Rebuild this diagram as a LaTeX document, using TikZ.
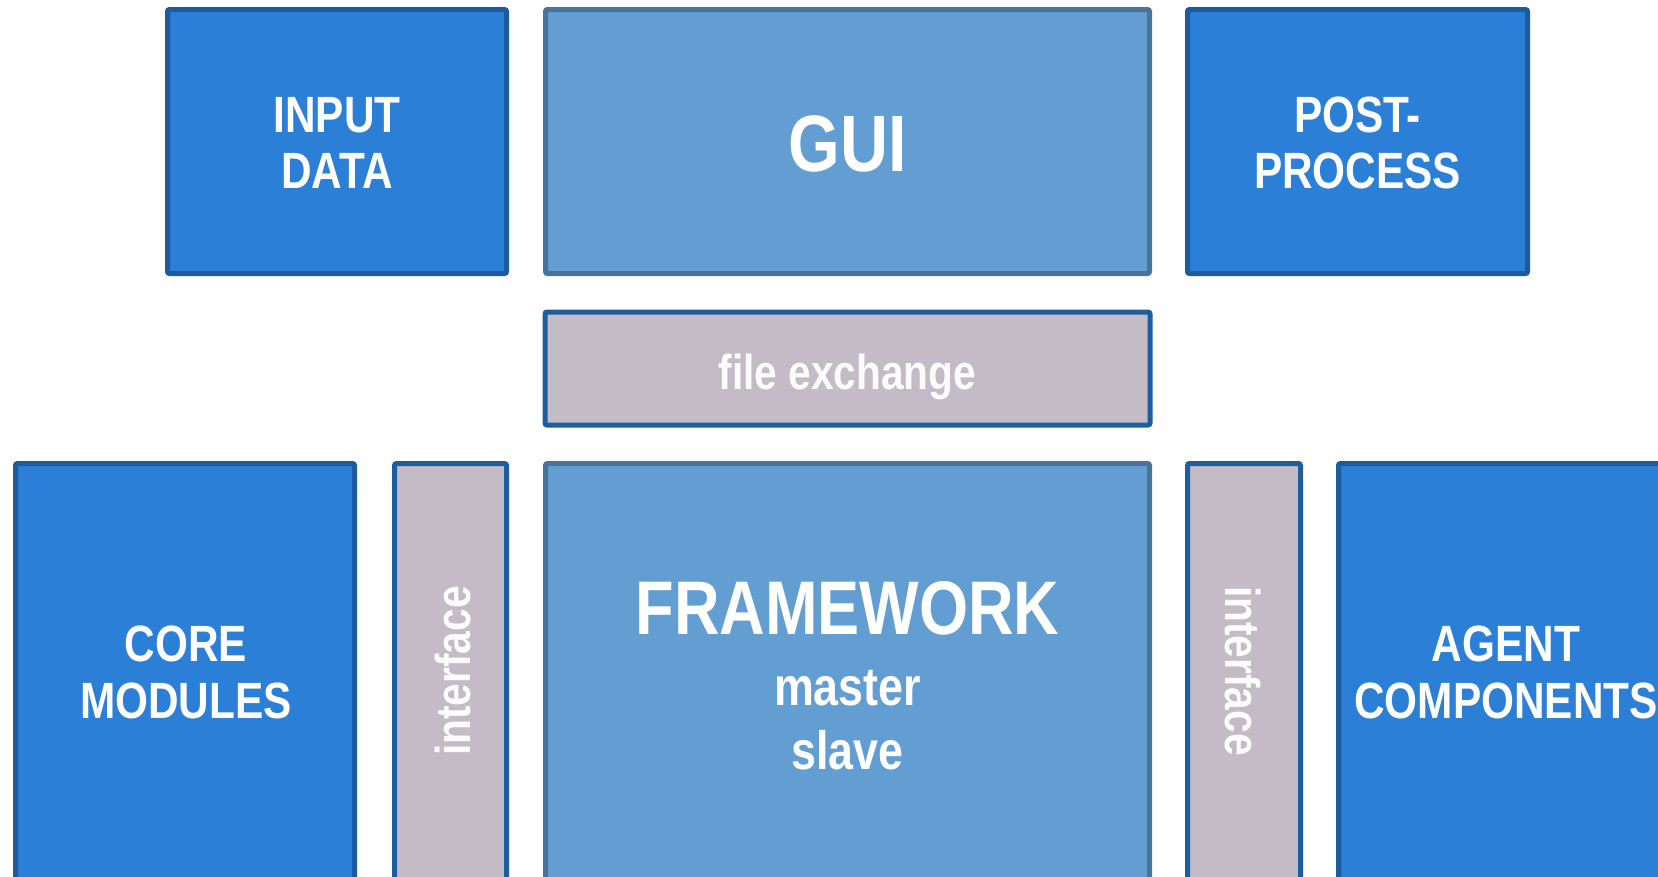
\documentclass[tikz,border=0pt]{standalone}
\usepackage{fontspec}
\newfontfamily\cond[FakeStretch=0.83]{Liberation Sans}
\definecolor{bluefill}{HTML}{2B7FD6}
\definecolor{blueline}{HTML}{1D5C9C}
\definecolor{lightfill}{HTML}{639ED2}
\definecolor{lightline}{HTML}{4A7399}
\definecolor{grayfill}{HTML}{C3BCC7}
\definecolor{grayline}{HTML}{1F5E9E}
\tikzset{
  box/.style={draw, line width=5pt, rounded corners=2pt, inner sep=0pt, outer sep=0pt},
  bluebox/.style={box, fill=bluefill, draw=blueline},
  lightbox/.style={box, fill=lightfill, draw=lightline},
  graybox/.style={box, fill=grayfill, draw=grayline},
  lbl/.style={text=white, font=\cond\bfseries\fontsize{51}{56}\selectfont, anchor=base, inner sep=0pt},
  biglbl/.style={lbl, font=\cond\bfseries\fontsize{80}{80}\selectfont},
  fwlbl/.style={lbl, font=\cond\bfseries\fontsize{76}{76}\selectfont},
  sublbl/.style={lbl, font=\cond\bfseries\fontsize{54}{54}\selectfont},
  smalllbl/.style={lbl, text=white!96!grayfill, font=\cond\bfseries\fontsize{49}{49}\selectfont},
}
\begin{document}
\begin{tikzpicture}[x=1pt,y=-1pt]
\useasboundingbox (0,0) rectangle (1658,876);
\clip (0,0) rectangle (1658,876);
% top row
\node[bluebox, minimum width=339pt, minimum height=264pt] (input) at (337,141.5) {};
\node[lightbox, minimum width=604pt, minimum height=264pt] (gui) at (847.5,141.5) {};
\node[bluebox, minimum width=340pt, minimum height=264pt] (post) at (1357.5,141.5) {};
% file exchange
\node[graybox, minimum width=605pt, minimum height=113pt] (fx) at (847.5,368.5) {};
% bottom row
\node[bluebox, minimum width=339pt, minimum height=500pt] (core) at (185,713.5) {};
\node[graybox, minimum width=112pt, minimum height=500pt] (ifl) at (450.5,713.5) {};
\node[lightbox, minimum width=604pt, minimum height=500pt] (fw) at (847.5,713.5) {};
\node[graybox, minimum width=113pt, minimum height=500pt] (ifr) at (1244,713.5) {};
\node[bluebox, minimum width=400pt, minimum height=500pt] (agent) at (1538.5,713.5) {};
% labels
\node[lbl] (inputA) at (337,132) {INPUT};
\node[lbl] (inputB) at (337,188) {DATA};
\node[biglbl] (guiT) at (847.5,171) {GUI};
\node[lbl] (postA) at (1357.5,132) {POST-};
\node[lbl] (postB) at (1357.5,188) {PROCESS};
\node[smalllbl] (fxT) at (847.5,389) {file exchange};
\node[lbl] (coreA) at (186,661) {CORE};
\node[lbl] (coreB) at (186,718) {MODULES};
\node[smalllbl, rotate=90] (iflT) at (470,671) {interface};
\node[fwlbl] (fwT) at (847.5,634) {FRAMEWORK};
\node[sublbl] (fwA) at (847.5,705) {master};
\node[sublbl] (fwB) at (847.5,769) {slave};
\node[smalllbl, rotate=-90] (ifrT) at (1225,671) {interface};
\node[lbl] (agentA) at (1506,661) {AGENT};
\node[lbl] (agentB) at (1506,718) {COMPONENTS};
\end{tikzpicture}
\end{document}
